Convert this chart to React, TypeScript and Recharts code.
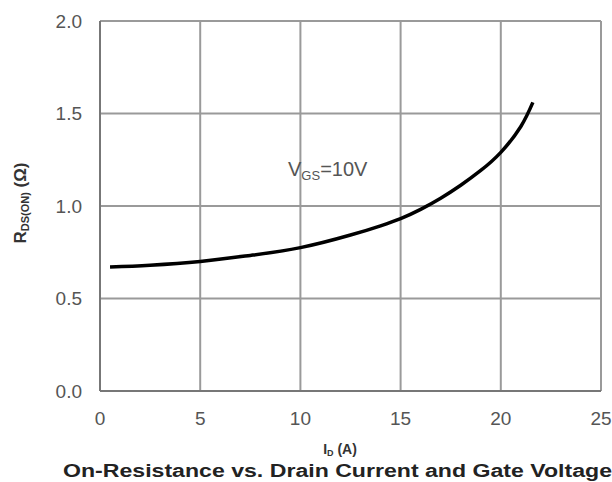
import React from "react";
import { LineChart, Line, XAxis, YAxis, CartesianGrid, Customized } from "recharts";

const currentA = [0.5, 2.5, 5, 7.5, 10, 12.5, 14, 15, 16, 17, 18, 19, 20, 21, 21.6];
const resistanceOhm = [0.67, 0.68, 0.7, 0.733, 0.775, 0.843, 0.893, 0.932, 0.982, 1.042, 1.112, 1.192, 1.29, 1.43, 1.56];
const xTicks = [0, 5, 10, 15, 20, 25];
const yTicks = [0, 0.5, 1.0, 1.5, 2.0];
const curveLabel = { main: "V", sub: "GS", rest: "=10V" };
const caption = "On-Resistance vs. Drain Current and Gate Voltage";

const data = currentA.map((x, i) => ({ x, r: resistanceOhm[i] }));

const FONT = "'Liberation Sans', Arial, sans-serif";
const GRID = "#9a9a9a";
const TXT = "#555";

const Annotations = () => (
  <g fontFamily={FONT}>
    <text x={288} y={176} fontSize={20} fill={TXT}>
      {curveLabel.main}
      <tspan fontSize={13} dy={4}>{curveLabel.sub}</tspan>
      <tspan dy={-4}>{curveLabel.rest}</tspan>
    </text>
    <text transform="translate(26,203) rotate(-90)" textAnchor="middle" fontSize={17} fontWeight="bold" fill="#333">
      R<tspan fontSize={11} dy={3}>DS(ON)</tspan>
      <tspan dy={-3}> (Ω)</tspan>
    </text>
    <text x={340} y={454} textAnchor="middle" fontSize={14} fontWeight="bold" fill="#333">
      I<tspan fontSize={9} dy={2}>D</tspan>
      <tspan dy={-2}> (A)</tspan>
    </text>
    <text x={63} y={477} fontSize={18} fontWeight="bold" fill="#222" textLength={549} lengthAdjust="spacingAndGlyphs">
      {caption}
    </text>
  </g>
);

export default function App() {
  return (
    <div style={{ position: "absolute", left: 0, top: 0, width: 612, height: 482, background: "#fff" }}>
      <LineChart width={612} height={482} data={data} margin={{ top: 21, right: 11, bottom: 0, left: 0 }}>
        <CartesianGrid stroke={GRID} strokeWidth={2} />
        <XAxis
          dataKey="x"
          type="number"
          domain={[0, 25]}
          ticks={xTicks}
          height={91}
          tickSize={0}
          tickMargin={21}
          axisLine={{ stroke: "#777", strokeWidth: 2 }}
          tick={{ fontSize: 19, fill: TXT, fontFamily: FONT }}
          interval={0}
        />
        <YAxis
          type="number"
          domain={[0, 2]}
          ticks={yTicks}
          width={100}
          tickSize={0}
          tickMargin={18}
          axisLine={{ stroke: "#777", strokeWidth: 2 }}
          tick={{ fontSize: 19, fill: TXT, fontFamily: FONT }}
          tickFormatter={(v: number) => v.toFixed(1)}
          interval={0}
        />
        <Line
          type="natural"
          dataKey="r"
          stroke="#000"
          strokeWidth={3.5}
          dot={false}
          isAnimationActive={false}
        />
        <Customized component={Annotations} />
      </LineChart>
    </div>
  );
}
